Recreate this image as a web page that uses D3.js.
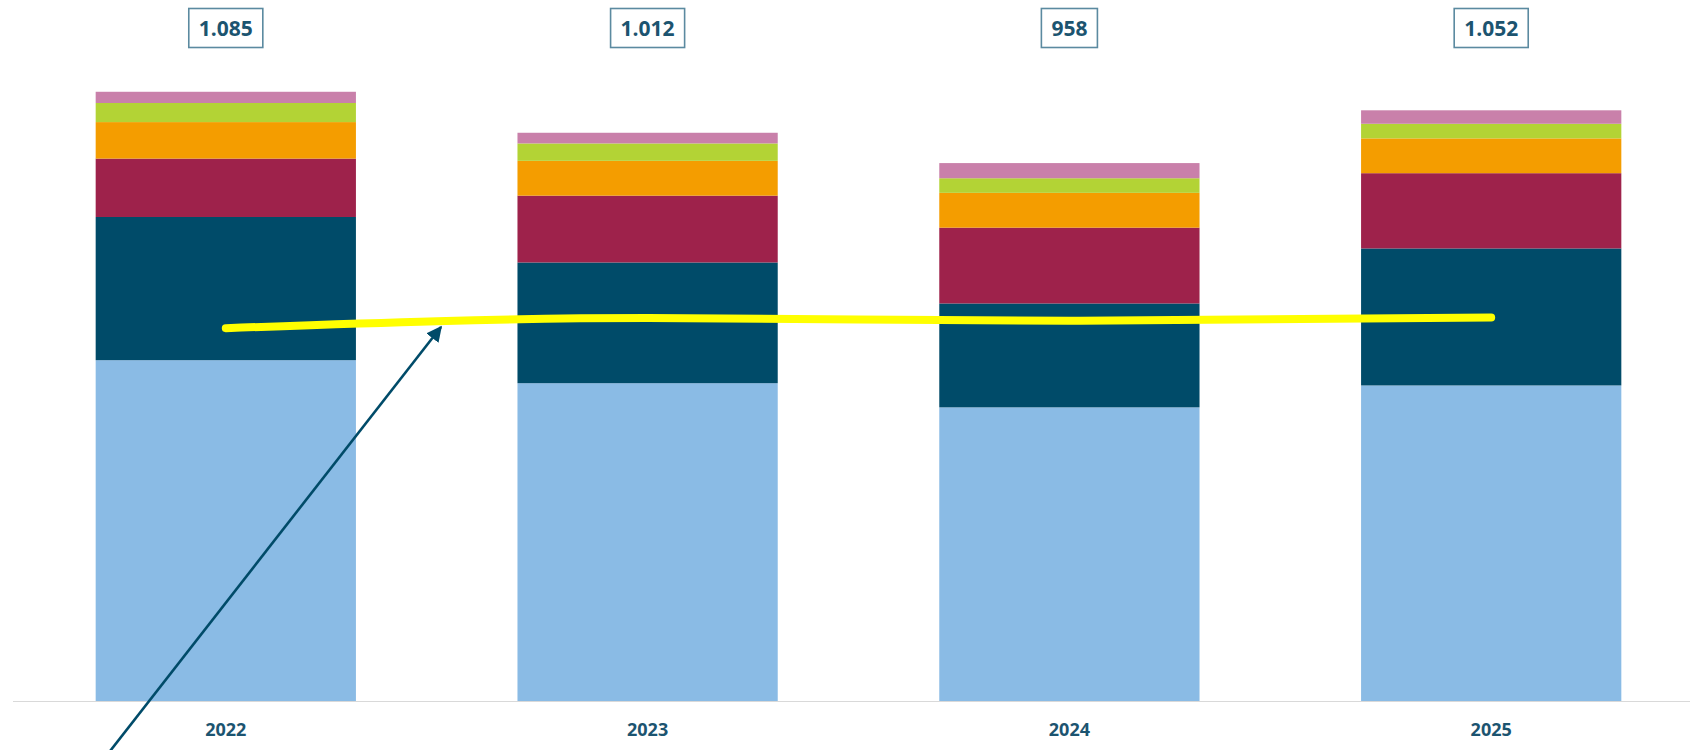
<!DOCTYPE html>
<html>
<head>
<meta charset="utf-8">
<script src="https://cdn.jsdelivr.net/npm/d3@7"></script>
<style>
  html, body { margin: 0; padding: 0; background: #fff; }
  svg { display: block; }
</style>
</head>
<body>
<svg id="chart" width="1690" height="750"></svg>
<script>
const years = ["2022", "2023", "2024", "2025"];
const seriesKeys = ["s1", "s2", "s3", "s4", "s5", "s6"];
const s1 = [607, 566, 523, 562];
const s2 = [255, 215, 185, 244];
const s3 = [104, 119, 135, 134];
const s4 = [65, 62, 62, 62];
const s5 = [34, 31, 26, 26];
const s6 = [20, 19, 27, 24];
const totals = [1085, 1012, 958, 1052];
const lineValues = [664, 682, 677, 683];
const colors = ["#8abbe5", "#004b69", "#9e224b", "#f49d00", "#b3d335", "#c980aa"];

const rows = years.map((y, i) => ({ year: y, s1: s1[i], s2: s2[i], s3: s3[i], s4: s4[i], s5: s5[i], s6: s6[i] }));

const svg = d3.select("#chart");
const x = d3.scaleBand().domain(years).range([13, 1704]).paddingInner(0.383).paddingOuter(0.196);
const y = d3.scaleLinear().domain([0, 1000]).range([701, 701 - 561.5]);

const stack = d3.stack().keys(seriesKeys)(rows);
const color = d3.scaleOrdinal().domain(seriesKeys).range(colors);

svg.append("g").selectAll("g").data(stack).join("g")
  .attr("fill", d => color(d.key))
  .selectAll("rect").data(d => d).join("rect")
  .attr("x", d => x(d.data.year))
  .attr("width", x.bandwidth())
  .attr("y", d => y(d[1]))
  .attr("height", d => y(d[0]) - y(d[1]));

// axis baseline
const xAxis = d3.axisBottom(x).tickSize(0).tickPadding(22);
const ax = svg.append("g").attr("transform", "translate(0,701)").call(xAxis);
ax.select(".domain").attr("stroke", "#d9d9d9").attr("stroke-width", 1.2).attr("d", "M13,0.5H1690");
ax.selectAll("text")
  .attr("font-family", "'Open Sans', sans-serif")
  .attr("font-weight", 700)
  .attr("font-size", 18)
  .attr("fill", "#1c5470");

// yellow line
const line = d3.line()
  .x((d, i) => x(years[i]) + x.bandwidth() / 2)
  .y(d => y(d))
  .curve(d3.curveMonotoneX);
svg.append("path")
  .datum(lineValues)
  .attr("d", line)
  .attr("fill", "none")
  .attr("stroke", "#ffff00")
  .attr("stroke-width", 8)
  .attr("stroke-linecap", "round");

// total labels
const fmt = d3.formatLocale({ decimal: ",", thousands: ".", grouping: [3], currency: ["", "€"] }).format(",d");
const lab = svg.append("g").selectAll("g").data(totals).join("g")
  .attr("transform", (d, i) => `translate(${x(years[i]) + x.bandwidth() / 2},0)`);
lab.append("text")
  .attr("text-anchor", "middle")
  .attr("y", 36)
  .attr("font-family", "'Open Sans', sans-serif")
  .attr("font-weight", 700)
  .attr("font-size", 21)
  .attr("fill", "#1c5470")
  .text(d => fmt(d));
lab.each(function() {
  const g = d3.select(this);
  const bb = g.select("text").node().getBBox();
  g.insert("rect", "text")
    .attr("x", -bb.width / 2 - 10)
    .attr("y", 8.5)
    .attr("width", bb.width + 20)
    .attr("height", 39)
    .attr("fill", "#fff")
    .attr("stroke", "#5b8aa0")
    .attr("stroke-width", 1.6);
});

// annotation arrow
const defs = svg.append("defs");
defs.append("marker")
  .attr("id", "arrow")
  .attr("viewBox", "0 0 10 10")
  .attr("refX", 9).attr("refY", 5)
  .attr("markerWidth", 6).attr("markerHeight", 6)
  .attr("markerUnits", "strokeWidth")
  .attr("orient", "auto")
  .append("path").attr("d", "M0,0L10,5L0,10z").attr("fill", "#004b69");
svg.append("line")
  .attr("x1", 107).attr("y1", 755)
  .attr("x2", 441).attr("y2", 327)
  .attr("stroke", "#004b69")
  .attr("stroke-width", 2.6)
  .attr("marker-end", "url(#arrow)");
</script>
</body>
</html>
